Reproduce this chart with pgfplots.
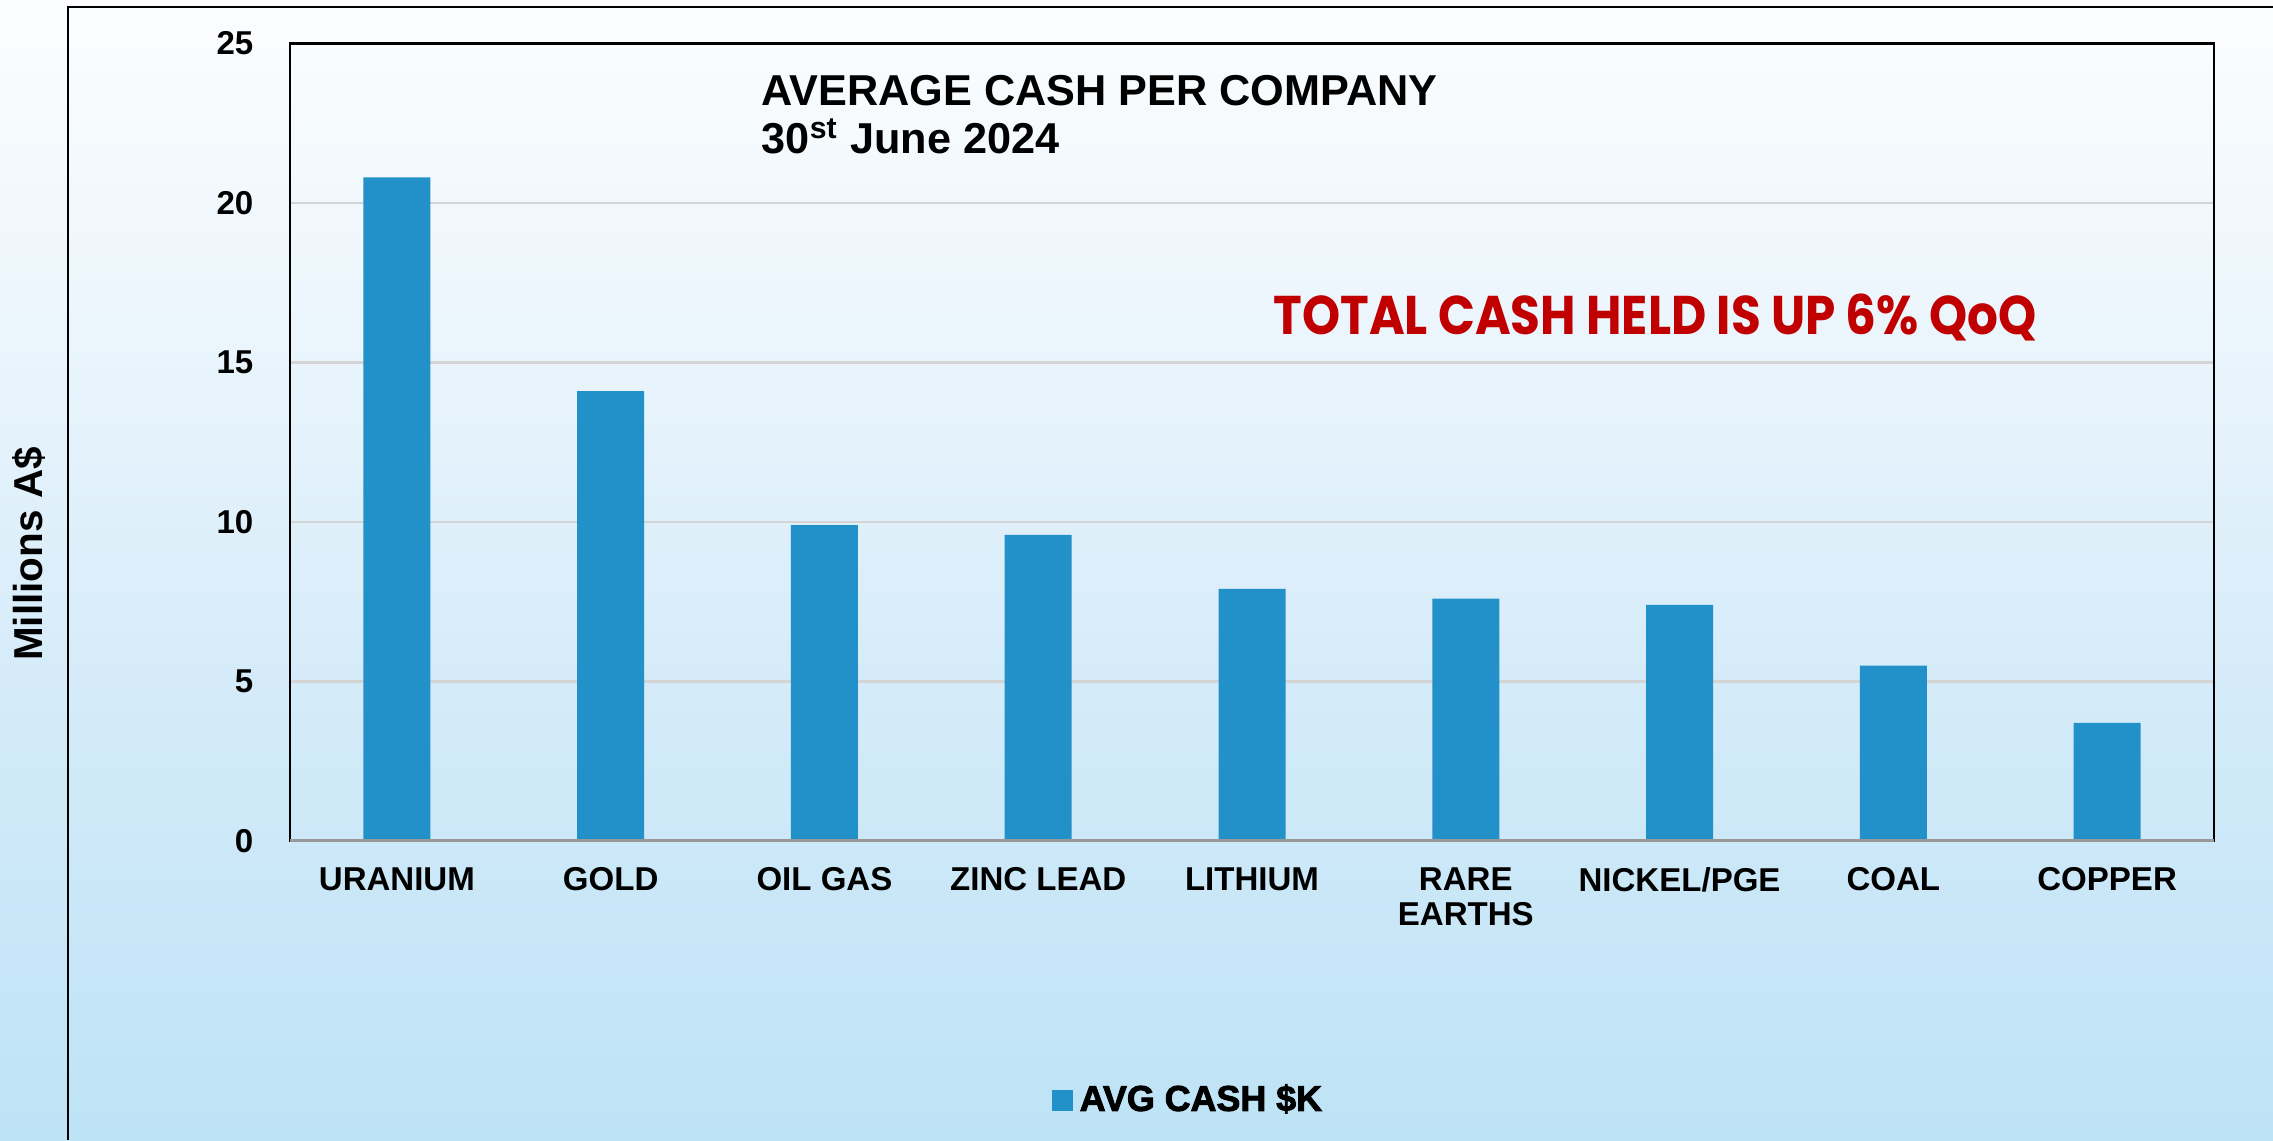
\documentclass[border=0pt]{standalone}
\usepackage{fontspec}
\setmainfont{Liberation Sans}
\newfontfamily\redfont[FakeStretch=0.89]{Poppins}
\newfontfamily\blackfont[FakeBold=2.5]{Liberation Sans}
\usepackage{pgfplots}
\pgfplotsset{compat=1.18}
\definecolor{barblue}{RGB}{34,145,202}
\definecolor{redtxt}{RGB}{192,0,0}
\definecolor{bgA}{RGB}{189,227,246}
\definecolor{bgB}{RGB}{213,235,249}
\definecolor{bgC}{RGB}{234,245,252}
\definecolor{bgD}{RGB}{252,253,254}
\pgfdeclareverticalshading{bgshade}{100bp}{color(0bp)=(bgA); color(25bp)=(bgA); color(45bp)=(bgB); color(60bp)=(bgC); color(75bp)=(bgD); color(100bp)=(bgD)}
\begin{document}
\begin{tikzpicture}[x=1cm,y=1cm]
\useasboundingbox (0,0) rectangle (22.73,11.40);
\shade[shading=bgshade] (0,0) rectangle (22.73,11.40);
\draw[black, line width=0.8pt] (0.68,0) -- (0.68,11.33) -- (22.73,11.33);
\begin{axis}[
  at={(2.90cm,2.99cm)}, anchor=south west,
  scale only axis, width=19.24cm, height=7.975cm,
  xmin=-0.5, xmax=8.5, ymin=0, ymax=25,
  ytick={0,5,10,15,20,25},
  xtick=data,
  xticklabels={URANIUM,GOLD,OIL GAS,ZINC LEAD,LITHIUM,{RARE\\EARTHS},NICKEL/PGE,COAL,COPPER},
  major tick length=0pt,
  ymajorgrids, grid style={color=black!17, line width=0.6pt},
  axis line style={black, line width=0.7pt},
  /pgf/number format/assume math mode=true,
  tick label style={font=\fontsize{9.4}{10}\selectfont\bfseries},
  xticklabel style={anchor=north, align=center, inner sep=0pt, yshift=-0.26cm},
  yticklabel style={anchor=east, inner sep=0pt, xshift=-0.36cm},
  ybar, bar width=0.67cm,
  legend style={at={(0.468,-0.325)}, anchor=center, draw=none, fill=none,
    font=\fontsize{10.2}{10}\selectfont\blackfont\bfseries, legend columns=-1},
]
\addplot[fill=barblue, draw=none,
  legend image code/.code={\fill[barblue] (0cm,-0.105cm) rectangle (0.21cm,0.105cm);}]
  coordinates {(0,20.8) (1,14.1) (2,9.9) (3,9.6) (4,7.9) (5,7.6) (6,7.4) (7,5.5) (8,3.7)};
\addlegendentry{AVG CASH \$K}
\draw[black!40, line width=1.4pt] (rel axis cs:0,0) -- (rel axis cs:1,0);
\end{axis}
\node[anchor=base west, inner sep=0pt, font=\fontsize{12.3}{14}\selectfont\bfseries] at (7.61,10.34) {AVERAGE CASH PER COMPANY};
\node[anchor=base west, inner sep=0pt, font=\fontsize{12.3}{14}\selectfont\bfseries] at (7.61,9.86) {30\textsuperscript{st} June 2024};
\node[anchor=base west, inner sep=0pt, text=redtxt, font=\fontsize{15.5}{18}\selectfont\redfont\bfseries] at (12.73,8.05) {TOTAL CASH HELD IS UP 6\% QoQ};
\node[rotate=90, inner sep=0pt, font=\fontsize{11.5}{13}\selectfont\bfseries] at (0.29,5.86) {Millions A\$};
\end{tikzpicture}
\end{document}
